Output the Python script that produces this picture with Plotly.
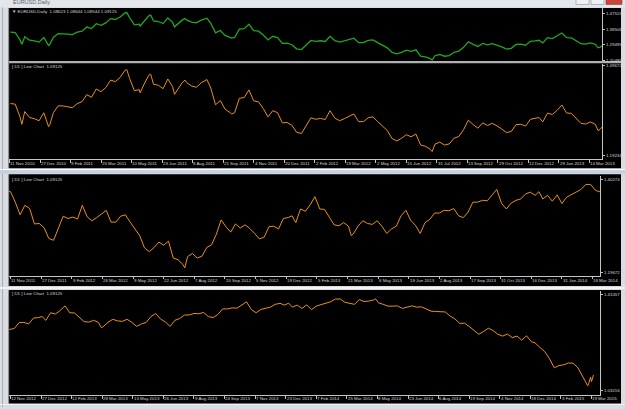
import pandas as pd
import plotly.graph_objects as go

W, H = 625, 409

# ---------------- data: EURUSD weekly (Friday) closes ----------------
first_friday = "2010-11-12"
close_2010 = [1.3690, 1.3670, 1.3240, 1.3420, 1.3220, 1.3180, 1.3110, 1.3380]
close_2011 = [1.2910, 1.3380, 1.3610, 1.3610, 1.3580, 1.3550, 1.3690, 1.3750,
              1.3990, 1.3900, 1.4180, 1.4090, 1.4230, 1.4480, 1.4430, 1.4570,
              1.4810, 1.4530, 1.4120, 1.4160, 1.4340, 1.4640, 1.4340, 1.4310,
              1.4190, 1.4520, 1.4260, 1.4150, 1.4390, 1.4390, 1.4280, 1.4240,
              1.4390, 1.4490, 1.4210, 1.3650, 1.3790, 1.3500, 1.3390, 1.3380,
              1.3870, 1.3890, 1.4150, 1.3780, 1.3750, 1.3520, 1.3240, 1.3450,
              1.3380, 1.3040, 1.3050, 1.2960]
close_2012 = [1.2720, 1.2680, 1.2930, 1.3210, 1.3160, 1.3190, 1.3150, 1.3450,
              1.3200, 1.3110, 1.3180, 1.3270, 1.3340, 1.3080, 1.3080, 1.3210,
              1.3240, 1.3080, 1.2920, 1.2780, 1.2510, 1.2430, 1.2520, 1.2640,
              1.2570, 1.2660, 1.2290, 1.2250, 1.2150, 1.2320, 1.2390, 1.2290,
              1.2330, 1.2520, 1.2580, 1.2810, 1.3130, 1.2980, 1.2860, 1.3040,
              1.2950, 1.3020, 1.2940, 1.2830, 1.2710, 1.2750, 1.2980, 1.2990,
              1.2930, 1.3160, 1.3180, 1.3220]
close_2013 = [1.3070, 1.3370, 1.3320, 1.3460, 1.3640, 1.3370, 1.3360, 1.3190,
              1.3020, 1.3000, 1.3070, 1.2990, 1.2820, 1.2990, 1.3110, 1.3050,
              1.3030, 1.3110, 1.2990, 1.2830, 1.2930, 1.2990, 1.3220, 1.3340,
              1.3120, 1.3010, 1.2830, 1.3070, 1.3140, 1.3280, 1.3280, 1.3340,
              1.3330, 1.3380, 1.3220, 1.3180, 1.3300, 1.3520, 1.3520, 1.3560,
              1.3550, 1.3680, 1.3800, 1.3490, 1.3370, 1.3500, 1.3560, 1.3590,
              1.3700, 1.3740, 1.3670, 1.3750]
close_2014 = [1.3590, 1.3670, 1.3540, 1.3680, 1.3490, 1.3630, 1.3690, 1.3740,
              1.3800, 1.3910, 1.3910, 1.3780, 1.3750, 1.3700, 1.3890, 1.3810,
              1.3830, 1.3870, 1.3760, 1.3700, 1.3630, 1.3630, 1.3640, 1.3540,
              1.3600, 1.3640, 1.3590, 1.3600, 1.3520, 1.3430, 1.3420, 1.3410,
              1.3400, 1.3240, 1.3130, 1.2950, 1.2960, 1.2830, 1.2690, 1.2520,
              1.2630, 1.2760, 1.2670, 1.2520, 1.2450, 1.2530, 1.2390, 1.2450,
              1.2290, 1.2460, 1.2230, 1.2180]
close_2015 = [1.2000, 1.1840, 1.1560, 1.1200, 1.1290, 1.1320, 1.1390, 1.1380,
              1.1190, 1.0840, 1.0490, 1.0820]

# extra daily closes at visible turning points
extra_dates = ["2010-11-30", "2011-01-10", "2011-05-03", "2011-05-23", "2011-06-07",
               "2011-07-12", "2011-07-27", "2011-08-29", "2011-10-04", "2012-07-24",
               "2013-03-27", "2014-05-06", "2015-03-16", "2015-03-18", "2015-03-19",
               "2015-03-23"]
extra_closes = [1.2990, 1.2950, 1.4830, 1.4050, 1.4680,
                1.4000, 1.4480, 1.4500, 1.3340, 1.2070,
                1.2780, 1.3920, 1.0570, 1.0830, 1.0660,
                1.0913]

# bar-axis holidays (no bars in the terminal)
no_bar_days = ["2012-12-25", "2013-01-01", "2013-12-25", "2014-01-01", "2014-12-25"]

ticks_p2 = ["11 Nov 2010", "27 Dec 2010", "9 Feb 2011", "25 Mar 2011", "10 May 2011",
            "23 Jun 2011", "8 Aug 2011", "21 Sep 2011", "4 Nov 2011", "20 Dec 2011",
            "2 Feb 2012", "19 Mar 2012", "2 May 2012", "15 Jun 2012", "31 Jul 2012",
            "13 Sep 2012", "29 Oct 2012", "12 Dec 2012", "29 Jan 2013", "14 Mar 2013"]
ticks_p3 = ["11 Nov 2011", "27 Dec 2011", "9 Feb 2012", "26 Mar 2012", "9 May 2012",
            "22 Jun 2012", "7 Aug 2012", "20 Sep 2012", "5 Nov 2012", "19 Dec 2012",
            "5 Feb 2013", "21 Mar 2013", "6 May 2013", "19 Jun 2013", "2 Aug 2013",
            "17 Sep 2013", "31 Oct 2013", "16 Dec 2013", "31 Jan 2014", "18 Mar 2014"]
ticks_p4 = ["12 Nov 2012", "27 Dec 2012", "12 Feb 2013", "28 Mar 2013", "13 May 2013",
            "26 Jun 2013", "9 Aug 2013", "24 Sep 2013", "7 Nov 2013", "23 Dec 2013",
            "7 Feb 2014", "25 Mar 2014", "8 May 2014", "23 Jun 2014", "6 Aug 2014",
            "19 Sep 2014", "4 Nov 2014", "18 Dec 2014", "3 Feb 2015", "19 Mar 2015"]

price_labels_1 = [1.47515, 1.38506, 1.29495, 1.20485]
price_labels_2 = [1.49672, 1.19234]
price_labels_3 = [1.40274, 1.19672]
price_labels_4 = [1.41057, 1.03216]

header_main = "\u25bc EURUSD,Daily  1.08623 1.08644 1.08544 1.09125"
header_line = "[ D1 ] Line Chart  1.09125"
window_title = "EURUSD,Daily"

# ---------------- series ----------------
weekly = close_2010 + close_2011 + close_2012 + close_2013 + close_2014 + close_2015
wdates = pd.date_range(first_friday, periods=len(weekly), freq="W-FRI")
ser = pd.concat([pd.Series(weekly, index=wdates),
                 pd.Series(extra_closes, index=pd.to_datetime(extra_dates))]).sort_index()

# ---------------- layout geometry (pixels) ----------------
FONT = "Liberation Sans, Arial, sans-serif"
FS = 4.4
TXT = "#d6d6d6"
AX = "#c4c4c4"

panels = [
    # x0,x1,y_top,y_bottom, yrange, xrange, ticks, labels, color, xlabels_y, header, header_y
    dict(px=(9, 602), py=(8, 61), yr=(1.2030, 1.5099), xr=("2010-11-10 12:00", "2013-04-02 02:00"),
         ticks=None, plab=price_labels_1, color="#1fa81f", width=1.3, lab_y=None,
         header=header_main, head_y=11.7),
    dict(px=(9, 602), py=(64, 160), yr=(1.1813, 1.5034), xr=("2010-11-10 12:00", "2013-04-02 02:00"),
         ticks=ticks_p2, plab=price_labels_2, color="#e8901a", width=1.0, lab_y=164.8,
         header=header_line, head_y=67.3),
    dict(px=(9, 600), py=(177, 277), yr=(1.1901, 1.4093), xr=("2011-11-09 10:00", "2014-03-27 19:00"),
         ticks=ticks_p3, plab=price_labels_3, color="#e8901a", width=1.0, lab_y=282.3,
         header=header_line, head_y=180.6),
    dict(px=(9, 600), py=(292, 397), yr=(1.0126, 1.4243), xr=("2012-11-08 10:00", "2015-03-31 21:00"),
         ticks=ticks_p4, plab=price_labels_4, color="#e8901a", width=1.0, lab_y=400.8,
         header=header_line, head_y=295.4),
]


def rect(x0, y0, x1, y1, color, layer="below", line_color=None, lw=0):
    return dict(type="rect", xref="paper", yref="paper",
                x0=x0 / W, x1=x1 / W, y0=1 - y1 / H, y1=1 - y0 / H,
                fillcolor=color, layer=layer,
                line=dict(width=lw, color=line_color or color))


def hline(x0, x1, y, color, lw=1, layer="below"):
    return dict(type="line", xref="paper", yref="paper", x0=x0 / W, x1=x1 / W,
                y0=1 - y / H, y1=1 - y / H, line=dict(color=color, width=lw), layer=layer)


def vline(x, y0, y1, color, lw=1, layer="below"):
    return dict(type="line", xref="paper", yref="paper", x0=x / W, x1=x / W,
                y0=1 - y0 / H, y1=1 - y1 / H, line=dict(color=color, width=lw), layer=layer)


shapes = [
    # title bar
    rect(0, 0, W, 7.5, "#e3e7ec"),
    # window control buttons
    rect(576, -2, 589, 4.5, "#eef0f3", line_color="#8a8f96", lw=0.6),
    rect(591, -2, 604, 4.5, "#eef0f3", line_color="#8a8f96", lw=0.6),
    rect(606, -2, 622, 4.5, "#c9453a", line_color="#8a3b33", lw=0.6),
    # left frame detail
    vline(2.5, 7.5, 409, "#a9adb3"),
    # chart windows (black)
    rect(9, 8, 621, 169, "#000000"),
    rect(9, 175, 621, 287.5, "#000000"),
    rect(9, 291.5, 621, 405.5, "#000000"),
    # window borders
    vline(8.7, 8, 169, "#7d7d7d"),
    vline(8.7, 175, 287.5, "#7d7d7d"),
    vline(8.7, 291.5, 405.5, "#7d7d7d"),
    hline(0, W, 170.3, "#ffffff"),
    rect(0, 171, W, 174.6, "#c3d1e0"),
    hline(0, W, 289.5, "#f2f2f2", lw=2),
    hline(0, W, 406.5, "#f2f2f2", lw=1),
    # separator between the price pane and line pane
    rect(9, 61.4, 621, 63.6, "#b0b0b0"),
]

fig = go.Figure()
annotations = []

for i, p in enumerate(panels, start=1):
    xs = "" if i == 1 else str(i)
    fig.add_trace(go.Scatter(
        x=ser.index, y=ser.values, mode="lines",
        line=dict(color=p["color"], width=p["width"]),
        xaxis="x" + xs, yaxis="y" + xs, showlegend=False, hoverinfo="skip",
    ))
    has_x = p["ticks"] is not None
    tick_dates = pd.to_datetime(p["ticks"], format="%d %b %Y") if has_x else []
    fig.update_layout(**{
        "xaxis" + xs: dict(
            domain=[p["px"][0] / W, p["px"][1] / W], anchor="y" + xs, type="date",
            range=list(p["xr"]),
            rangebreaks=[dict(bounds=["sat", "mon"]), dict(values=no_bar_days)],
            showgrid=False, zeroline=False,
            showline=has_x, linecolor=AX, linewidth=1,
            ticks="outside" if has_x else "", ticklen=2.5, tickwidth=1, tickcolor=AX,
            tickvals=list(tick_dates), showticklabels=False,
        ),
        "yaxis" + xs: dict(
            domain=[1 - p["py"][1] / H, 1 - p["py"][0] / H], anchor="x" + xs,
            range=list(p["yr"]), side="right",
            showgrid=False, zeroline=False,
            showline=True, linecolor=AX, linewidth=1,
            ticks="outside", ticklen=2, tickwidth=1, tickcolor=AX,
            tickvals=p["plab"], ticktext=[f"{v:.5f}" for v in p["plab"]],
            tickfont=dict(family=FONT, size=FS, color=TXT),
        ),
    })
    if has_x:
        for lab, d in zip(p["ticks"], tick_dates):
            annotations.append(dict(
                x=d, xref="x" + xs, y=1 - p["lab_y"] / H, yref="paper",
                text=lab, showarrow=False, xanchor="left", yanchor="middle",
                xshift=0.8, borderpad=0, borderwidth=0,
                font=dict(family=FONT, size=FS, color=TXT),
            ))
    annotations.append(dict(
        x=12 / W, xref="paper", y=1 - p["head_y"] / H, yref="paper",
        text=p["header"], showarrow=False, xanchor="left", yanchor="middle",
        borderpad=0, borderwidth=0,
        font=dict(family=FONT, size=FS, color=TXT),
    ))

annotations.append(dict(
    x=13 / W, xref="paper", y=1 - 1.6 / H, yref="paper",
    text=window_title, showarrow=False, xanchor="left", yanchor="middle",
    borderpad=0, borderwidth=0,
    font=dict(family=FONT, size=5.5, color="#5a5f66"),
))

fig.update_layout(
    width=W, height=H, margin=dict(l=0, r=0, t=0, b=0),
    paper_bgcolor="#d9dde3", plot_bgcolor="#000000",
    shapes=shapes, annotations=annotations,
    showlegend=False, hovermode=False,
)

fig.write_html("out.html", config={"displayModeBar": False})
